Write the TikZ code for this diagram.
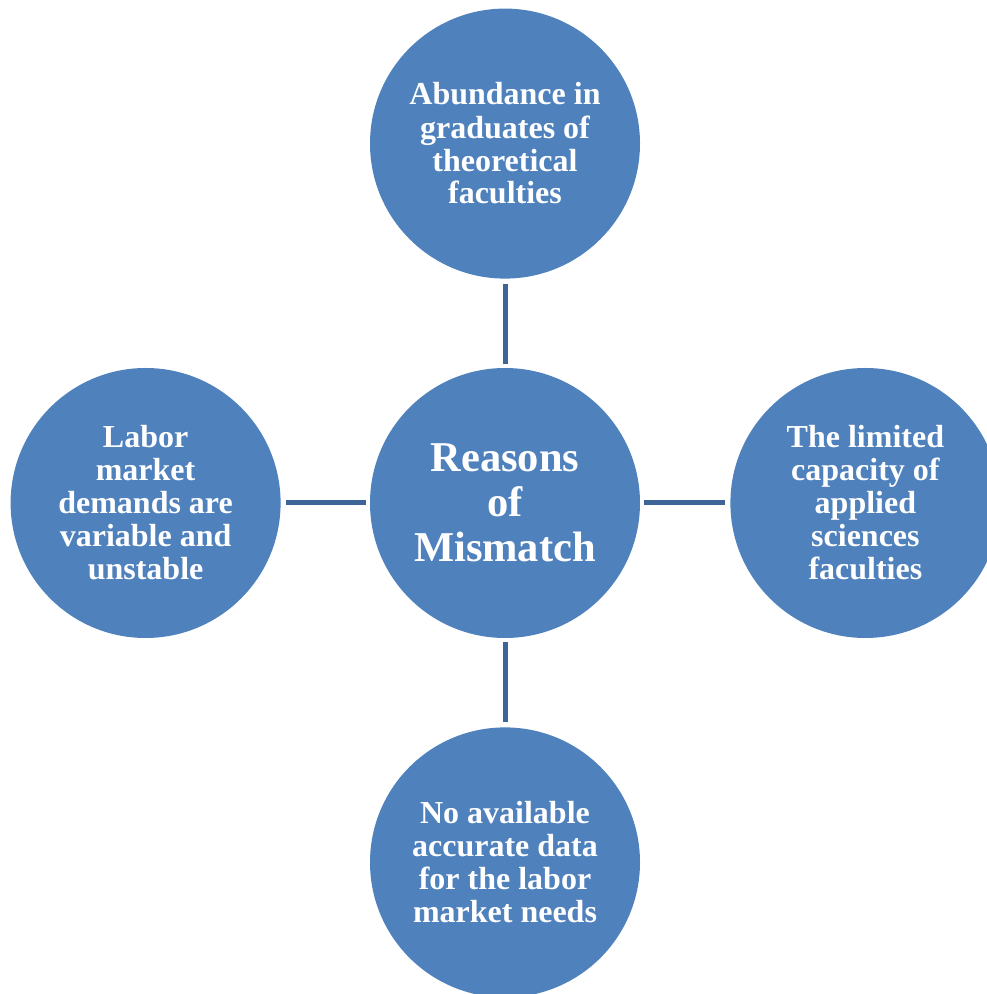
\documentclass[tikz,border=0pt]{standalone}
\usepackage{fontspec}
\setmainfont{Liberation Serif}
\usetikzlibrary{positioning}

\begin{document}
\begin{tikzpicture}[x=1pt,y=1pt]
\definecolor{circle area}{HTML}{4F81BD}
\definecolor{link}{HTML}{3E6597}
\tikzset{
     filled/.style={circle, fill=circle area, minimum size=270pt, inner sep=0pt,
        text=white, align=center, font=\fontsize{32}{33}\selectfont\bfseries},
     big/.style={font=\fontsize{42.5}{45}\selectfont\bfseries},
     link/.style={draw=link, line width=5pt, shorten <=5pt, shorten >=4pt}}

\useasboundingbox (0,0) rectangle (987,994);
\clip (0,0) rectangle (987,994);

% The circles
\node (reasons) [filled, big] at (505,491) {Reasons\\of\\Mismatch};
\node (abundance) [filled, above=89pt of reasons] {Abundance in\\graduates of\\theoretical\\faculties};
\node (nodata) [filled, below=89pt of reasons] {No available\\accurate data\\for the labor\\market needs};
\node (labor) [filled, left=89pt of reasons] {Labor\\market\\demands are\\variable and\\unstable};
\node (capacity) [filled, right=90pt of reasons] {The limited\\capacity of\\applied\\sciences\\faculties};

% The connectors
\draw [link] (abundance) -- (reasons);
\draw [link] (labor) -- (reasons);
\draw [link] (capacity) -- (reasons);
\draw [link] (nodata) -- (reasons);
\end{tikzpicture}
\end{document}
